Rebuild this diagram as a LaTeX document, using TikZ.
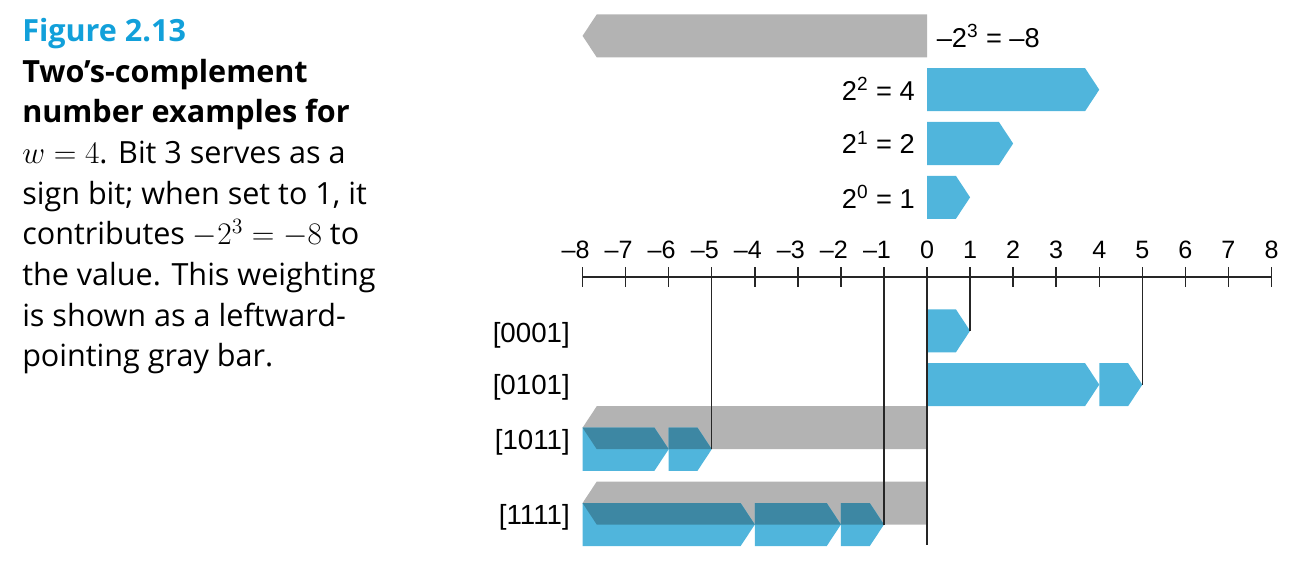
\documentclass[tikz,border=0pt]{standalone}
\usepackage[no-math]{fontspec}
\setmainfont{Liberation Sans}
\newfontfamily\capfont{Open Sans}
\usepackage{tikz}
\usetikzlibrary{positioning}

\definecolor{barblue}{HTML}{50B5DC}
\definecolor{bargray}{HTML}{B3B3B3}
\definecolor{bardark}{HTML}{3D87A3}
\definecolor{figblue}{HTML}{12A0DA}

\newcommand{\tipw}{0.33}
% right-pointing bar from #2 to #3, centred at height #4
\newcommand{\rbar}[4]{\fill[#1] (#2,#4+0.5) -- (#3-\tipw,#4+0.5) -- (#3,#4) -- (#3-\tipw,#4-0.5) -- (#2,#4-0.5) -- cycle;}
% left-pointing gray bar from -8 to 0, centred at height #1
\newcommand{\lbarpath}[1]{(0,#1+0.5) -- (-8+\tipw,#1+0.5) -- (-8,#1) -- (-8+\tipw,#1-0.5) -- (0,#1-0.5) -- cycle}

\begin{document}
\begin{tikzpicture}[
    axisline/.style={line width=1pt, black!85},
    numlab/.style={font=\fontsize{16.6}{18}\selectfont, anchor=base, inner sep=0},
    wlab/.style={font=\fontsize{18}{20}\selectfont, inner sep=0},
    rowlab/.style={font=\fontsize{18.3}{20}\selectfont, anchor=base east, inner sep=0}]
  \useasboundingbox (-21.53,-6.80) rectangle (8.755,6.433);

  % caption (anchored on its last line)
  \node[anchor=base west, align=left, inner sep=0, font=\capfont\fontsize{20.2}{26.9}\selectfont] (caption) at (-21.02,-2.09)
    {{\bfseries\color{figblue}Figure 2.13}\\
     {\bfseries Two’s-complement}\\
     {\bfseries number examples for}\\
     $w=4$. Bit 3 serves as a\\
     sign bit; when set to 1, it\\
     contributes $-2^3=-8$ to\\
     the value. This weighting\\
     is shown as a leftward-\\
     pointing gray bar.};

  % weights of the four bits
  \fill[bargray] \lbarpath{5.6};
  \rbar{barblue}{0}{4}{4.35}
  \rbar{barblue}{0}{2}{3.1}
  \rbar{barblue}{0}{1}{1.85}
  \node[wlab, anchor=base west] (w3) at (0.22,5.34) {–2\textsuperscript{3} = –8};
  \node[wlab, anchor=base east] (w2) at (-0.28,4.11) {2\textsuperscript{2} = 4};
  \node[wlab, anchor=base east] (w1) at (-0.28,2.86) {2\textsuperscript{1} = 2};
  \node[wlab, anchor=base east] (w0) at (-0.28,1.60) {2\textsuperscript{0} = 1};

  % number line
  \draw[axisline] (-8,0) -- (8,0);
  \foreach \i in {-8,...,8} {
    \coordinate (tick\i) at (\i,0);
    \draw[axisline] (\i,-0.23) -- (\i,0.23);
  }
  \foreach \i in {1,...,8} {
    \node[numlab] (neg\i) at (-\i,0.44) {\llap{–}\i};
  }
  \foreach \i in {0,...,8} {
    \node[numlab] (pos\i) at (\i,0.44) {\i};
  }

  % [0001]
  \rbar{barblue}{0}{1}{-1.25}
  \coordinate (tip0001) at (1,-1.25);
  \node[rowlab] (r0001) at (-8.29,-1.51) {[0001]};

  % [0101]
  \rbar{barblue}{0}{4}{-2.5}
  \rbar{barblue}{4}{5}{-2.5}
  \coordinate (tip0101) at (5,-2.5);
  \node[rowlab] (r0101) at (-8.29,-2.74) {[0101]};

  % [1011]: sign bar plus 2 and 1
  \fill[bargray] \lbarpath{-3.5};
  \rbar{barblue}{-8}{-6}{-4}
  \rbar{barblue}{-6}{-5}{-4}
  \begin{scope}
    \clip \lbarpath{-3.5};
    \rbar{bardark}{-8}{-6}{-4}
    \rbar{bardark}{-6}{-5}{-4}
  \end{scope}
  \coordinate (tip1011) at (-5,-4);
  \node[rowlab] (r1011) at (-8.29,-4.0) {[1011]};

  % [1111]: sign bar plus 4, 2 and 1
  \fill[bargray] \lbarpath{-5.25};
  \rbar{barblue}{-8}{-4}{-5.75}
  \rbar{barblue}{-4}{-2}{-5.75}
  \rbar{barblue}{-2}{-1}{-5.75}
  \begin{scope}
    \clip \lbarpath{-5.25};
    \rbar{bardark}{-8}{-4}{-5.75}
    \rbar{bardark}{-4}{-2}{-5.75}
    \rbar{bardark}{-2}{-1}{-5.75}
  \end{scope}
  \coordinate (tip1111) at (-1,-5.75);
  \node[rowlab] (r1111) at (-8.29,-5.74) {[1111]};

  % value lines
  \coordinate (zeroend) at (0,-6.22);
  \draw[axisline] (tick1) -- (tip0001);
  \draw[axisline] (tick5) -- (tip0101);
  \draw[axisline] (tick-5) -- (tip1011);
  \draw[axisline] (tick-1) -- (tip1111);
  \draw[axisline] (tick0) -- (zeroend);
\end{tikzpicture}
\end{document}
